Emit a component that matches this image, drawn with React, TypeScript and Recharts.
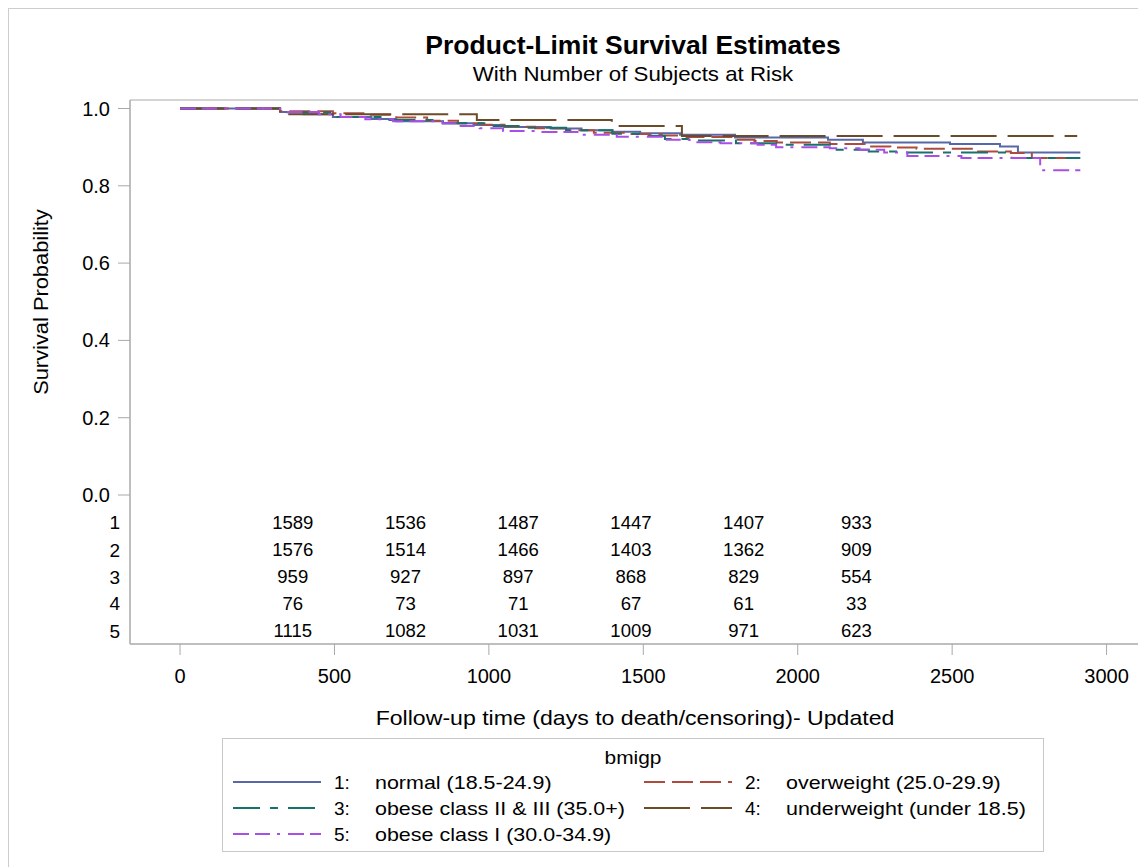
import { ComposedChart, Line, Scatter, XAxis, YAxis, ReferenceArea } from "recharts";

const FONT = '"Liberation Sans", Arial, Helvetica, sans-serif';
const AXIS_GRAY = "#a9a9a9";

// groups (bmigp)
const groupIds = ["1", "2", "3", "4", "5"];
const groupLabels = [
  "normal (18.5-24.9)",
  "overweight (25.0-29.9)",
  "obese class II & III (35.0+)",
  "underweight (under 18.5)",
  "obese class I (30.0-34.9)",
];
const groupColors = ["#5868a6", "#ad4c3e", "#16726a", "#6c4b29", "#a94fe6"];
const groupDashes = ["", "21 7", "27 10 8 10", "46 11", "16 6 15 7 3 8"];

// survival step estimates
const normalTimes = [0, 324, 400, 495, 620, 700, 851, 950, 1050, 1200, 1300, 1400, 1490, 1619, 1797, 2098, 2211, 2493, 2655, 2713, 2915];
const normalSurv = [1, 0.991, 0.985, 0.978, 0.973, 0.967, 0.962, 0.957, 0.952, 0.948, 0.944, 0.94, 0.936, 0.932, 0.925, 0.919, 0.912, 0.908, 0.902, 0.886, 0.886];

const overTimes = [0, 324, 495, 600, 700, 800, 900, 980, 1050, 1150, 1250, 1340, 1450, 1560, 1640, 1800, 1860, 1932, 2104, 2217, 2300, 2385, 2570, 2690, 2758, 2915];
const overSurv = [1, 0.993, 0.988, 0.984, 0.977, 0.968, 0.962, 0.958, 0.953, 0.949, 0.944, 0.937, 0.934, 0.93, 0.926, 0.919, 0.916, 0.912, 0.908, 0.902, 0.899, 0.896, 0.889, 0.885, 0.872, 0.872];

const obese2Times = [0, 324, 495, 657, 851, 1000, 1100, 1250, 1400, 1500, 1570, 1650, 1800, 1930, 2104, 2230, 2350, 2693, 2915];
const obese2Surv = [1, 0.99, 0.978, 0.97, 0.962, 0.955, 0.95, 0.944, 0.935, 0.929, 0.921, 0.917, 0.91, 0.906, 0.893, 0.889, 0.886, 0.872, 0.872];

const underTimes = [0, 324, 961, 1398, 1625, 2905];
const underSurv = [1, 0.985, 0.97, 0.955, 0.929, 0.929];

const obese1Times = [0, 324, 450, 520, 600, 690, 850, 900, 970, 1046, 1150, 1300, 1414, 1570, 1650, 1750, 1870, 1930, 2104, 2200, 2280, 2355, 2530, 2785, 2915];
const obese1Surv = [1, 0.991, 0.985, 0.978, 0.972, 0.967, 0.962, 0.955, 0.949, 0.942, 0.939, 0.932, 0.927, 0.919, 0.913, 0.91, 0.906, 0.9, 0.897, 0.893, 0.886, 0.877, 0.872, 0.84, 0.84];

// number at risk
const atRiskTimes = [365, 730, 1095, 1460, 1825, 2190];
const atRisk1 = [1589, 1536, 1487, 1447, 1407, 933];
const atRisk2 = [1576, 1514, 1466, 1403, 1362, 909];
const atRisk3 = [959, 927, 897, 868, 829, 554];
const atRisk4 = [76, 73, 71, 67, 61, 33];
const atRisk5 = [1115, 1082, 1031, 1009, 971, 623];

const xTicks = [0, 500, 1000, 1500, 2000, 2500, 3000];
const yTicks = [0, 0.2, 0.4, 0.6, 0.8, 1.0];
// rows of the at-risk table sit below 0 on the y scale
const rowPos = [-0.0724, -0.1423, -0.2122, -0.282, -0.3519];
const X_DOMAIN = [-162, 3105];
const Y_DOMAIN = [-0.3855, 1.022];

const curves = [
  [normalTimes, normalSurv],
  [overTimes, overSurv],
  [obese2Times, obese2Surv],
  [underTimes, underSurv],
  [obese1Times, obese1Surv],
].map(([times, surv]) => times.map((t, i) => ({ t, s: surv[i] })));

const atRisk = [atRisk1, atRisk2, atRisk3, atRisk4, atRisk5];
const riskPoints = atRisk.map((row, g) =>
  atRiskTimes.map((t, i) => ({ t, y: rowPos[g], n: row[i] }))
);

function YTick(props: any) {
  const { x, y, payload } = props;
  const v = payload.value;
  const row = rowPos.indexOf(v);
  if (row >= 0) {
    return (
      <text x={x + 10} y={y} textAnchor="end" dominantBaseline="central" fontSize={19} fontFamily={FONT} fill="#000">
        {groupIds[row]}
      </text>
    );
  }
  return (
    <g>
      <line x1={x + 8} x2={x + 20} y1={y} y2={y} stroke={AXIS_GRAY} />
      <text x={x} y={y} textAnchor="end" dominantBaseline="central" fontSize={20} fontFamily={FONT} fill="#000">
        {v.toFixed(1)}
      </text>
    </g>
  );
}

const RiskLabel = (p: any) => (
  <text
    transform={`translate(${p.cx},${p.cy}) scale(1.06,1)`}
    textAnchor="middle"
    dominantBaseline="central"
    fontSize={17.5}
    fontFamily={FONT}
    fill="#000"
  >
    {p.payload.n}
  </text>
);

function LegendBox() {
  const rows = [
    [0, 1],
    [2, 3],
    [4],
  ];
  return (
    <div
      style={{
        position: "absolute",
        left: 214,
        top: 730,
        width: 822,
        height: 114,
        border: "1px solid #c8c8c8",
        boxSizing: "border-box",
        background: "#fff",
      }}
    >
      <svg width={820} height={112} style={{ position: "absolute", left: 0, top: 0 }}>
        <text
          transform="translate(410,18) scale(1.1,1)"
          textAnchor="middle"
          dominantBaseline="central"
          fontSize={19}
          fontFamily={FONT}
          fill="#000"
        >
          bmigp
        </text>
        {rows.map((r, ri) =>
          r.map((g, ci) => {
            const y = 43 + ri * 26;
            const lx = ci === 0 ? 10 : 421;
            return (
              <g key={g}>
                <line x1={lx} x2={lx + 88} y1={y} y2={y} stroke={groupColors[g]} strokeWidth={2} strokeDasharray={groupDashes[g]} />
                <text x={lx + 101} y={y} dominantBaseline="central" fontSize={19} fontFamily={FONT} fill="#000">
                  {groupIds[g]}:
                </text>
                <text
                  transform={`translate(${lx + 142},${y}) scale(1.13,1)`}
                  dominantBaseline="central"
                  fontSize={19}
                  fontFamily={FONT}
                  fill="#000"
                >
                  {groupLabels[g]}
                </text>
              </g>
            );
          })
        )}
      </svg>
    </div>
  );
}

export default function App() {
  const textBase = {
    position: "absolute" as const,
    whiteSpace: "nowrap" as const,
    fontFamily: FONT,
    color: "#000",
    lineHeight: 1,
  };
  return (
    <div style={{ position: "relative", width: 1138, height: 859, background: "#fff" }}>
      <div style={{ position: "absolute", left: 0, top: 0, width: 1146, height: 870, border: "1px solid #cdcdcd" }} />
      <ComposedChart
        width={1138}
        height={859}
        margin={{ top: 92, right: 7, bottom: 163, left: 0 }}
        style={{ position: "absolute", left: 0, top: 0 }}
      >
        <XAxis
          type="number"
          dataKey="t"
          domain={X_DOMAIN}
          ticks={xTicks}
          allowDataOverflow
          interval={0}
          height={60}
          tickSize={11}
          tickMargin={14}
          stroke={AXIS_GRAY}
          tick={{ fontSize: 20, fill: "#000", fontFamily: FONT }}
        />
        <YAxis
          type="number"
          domain={Y_DOMAIN}
          ticks={[...rowPos, ...yTicks]}
          allowDataOverflow
          interval={0}
          width={122}
          tickSize={12}
          tickMargin={8}
          tickLine={false}
          stroke={AXIS_GRAY}
          tick={<YTick />}
        />
        <ReferenceArea
          x1={X_DOMAIN[0]}
          x2={X_DOMAIN[1]}
          y1={Y_DOMAIN[0]}
          y2={Y_DOMAIN[1]}
          fill="none"
          fillOpacity={0}
          stroke={AXIS_GRAY}
          ifOverflow="visible"
        />
        {curves.map((d, g) => (
          <Line
            key={g}
            data={d}
            dataKey="s"
            type="stepAfter"
            stroke={groupColors[g]}
            strokeWidth={2}
            strokeDasharray={groupDashes[g]}
            dot={false}
            activeDot={false}
            isAnimationActive={false}
          />
        ))}
        {riskPoints.map((d, g) => (
          <Scatter key={"r" + g} data={d} dataKey="y" shape={RiskLabel} isAnimationActive={false} />
        ))}
      </ComposedChart>

      <div style={{ ...textBase, left: 625, top: 37, fontSize: 25, fontWeight: "bold", transform: "translate(-50%, -50%) scaleX(1.06)" }}>
        Product-Limit Survival Estimates
      </div>
      <div style={{ ...textBase, left: 625, top: 65, fontSize: 21, transform: "translate(-50%, -50%) scaleX(1.06)" }}>
        With Number of Subjects at Risk
      </div>
      <div style={{ ...textBase, left: 627, top: 709, fontSize: 21, transform: "translate(-50%, -50%) scaleX(1.1)" }}>
        Follow-up time (days to death/censoring)- Updated
      </div>
      <div style={{ ...textBase, left: 32, top: 294, fontSize: 21, transform: "translate(-50%, -50%) rotate(-90deg) scaleX(1.04)" }}>
        Survival Probability
      </div>
      <LegendBox />
    </div>
  );
}
